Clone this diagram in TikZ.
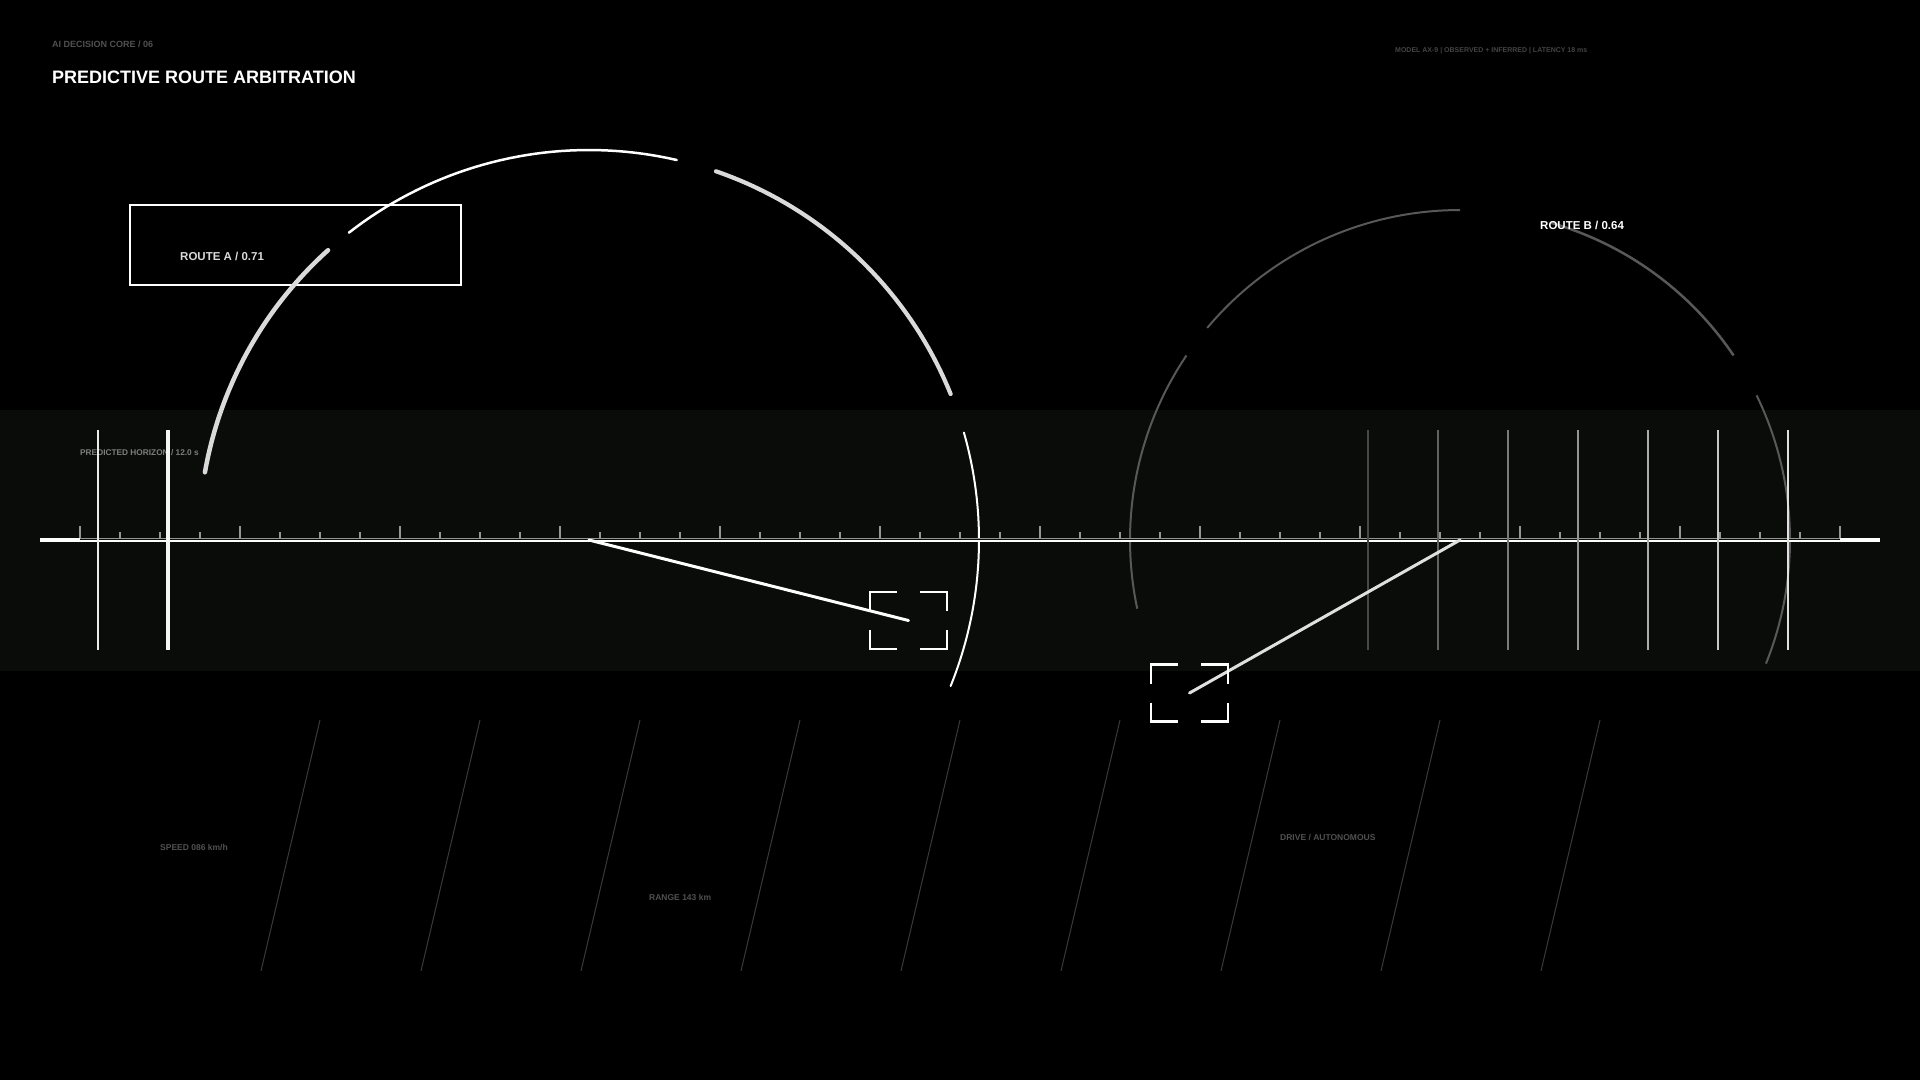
\documentclass[tikz,border=0pt]{standalone}
\usepackage{fontspec}
\setmainfont{Liberation Sans}
\usetikzlibrary{positioning}
\definecolor{bandcol}{RGB}{10,12,10}
\definecolor{arcA}{RGB}{218,218,218}
\definecolor{arcB}{RGB}{88,88,88}
\definecolor{hatch}{RGB}{58,58,58}
\definecolor{dimtext}{RGB}{80,80,80}
\definecolor{midtext}{RGB}{125,125,125}
\definecolor{tickcol}{RGB}{150,150,150}
\tikzset{
  lbl/.style={anchor=base west, inner sep=0pt},
  brk/.style={white, line width=2.2pt, line cap=butt},
  routeline/.style={line width=3pt, line cap=round},
}
\newcommand\fs[1]{\bfseries\fontsize{#1}{#1}\selectfont}

\begin{document}
\begin{tikzpicture}[x=1pt,y=-1pt]
\fill[black] (0,0) rectangle (1920,1080);
\useasboundingbox (0,0) rectangle (1920,1080);
\fill[bandcol] (0,410) rectangle (1920,671);
\foreach \i in {0,...,8}
  \draw[hatch, line width=1pt] ({320+160*\i},720) -- ({261+160*\i},971);

\coordinate (ctrA) at (589,540);
\coordinate (ctrB) at (1460,540);
\coordinate (tgtA) at (908.5,620.5);
\coordinate (tgtB) at (1189.5,693);

\node[draw=white, line width=2pt, minimum width=331pt, minimum height=80pt, inner sep=0pt] (boxA) at (295.5,245) {};

\foreach \a/\b/\w/\c in {170/132/4.5/arcA, 128/77/2.5/white, 71/22/4.2/arcA, 16/-22/2/white}
  \draw[line width=\w pt, \c, line cap=round, domain=\a:\b, samples=40] plot ({589+390*cos(\x)},{540-390*sin(\x)});
\foreach \a/\b/\w in {192/146/2, 140/90/2, 74/34/2.5, 26/-22/2}
  \draw[line width=\w pt, arcB, domain=\a:\b, samples=40] plot ({1460+330*cos(\x)},{540-330*sin(\x)});

\draw[white, line width=4.5pt] (40,540) -- (1880,540);
\draw[bandcol, line width=1pt] (80,539.3) -- (1840,539.3);
\draw[tickcol, line width=1.2pt] (80,538.2) -- (1840,538.2);
\foreach \i in {0,...,44} {
  \pgfmathsetmacro\tl{mod(\i,4)==0 ? 12 : 6}
  \draw[tickcol, line width=1.2pt] ({80+40*\i},538.2) -- ++(0,-\tl);
}

\node[lbl, midtext, font=\fs{8.3}] (horizon) at (80,455) {PREDICTED HORIZON / 12.0 s};

\draw[white!92!black, line width=2.5pt] (98,430) -- (98,650);
\draw[white!96!black, line width=4pt] (168,430) -- (168,650);
\foreach \i in {0,...,6} {
  \pgfmathsetmacro\sh{28+10*\i}
  \draw[white!\sh!black, line width=2pt] ({1368+70*\i},430) -- ++(0,220);
}

\draw[white, routeline] (ctrA) -- (tgtA);
\draw[white!88!black, routeline] (tgtB) -- (ctrB);
\foreach \sx/\sy in {1/1,1/-1,-1/1,-1/-1} {
  \draw[brk] ([shift={(\sx*38.5,\sy*9.5)}]tgtA) -- ++(0,\sy*19) -- ++(-\sx*27,0);
  \draw[brk] ([shift={(\sx*38.5,\sy*9.5)}]tgtB) -- ++(0,\sy*19) -- ++(-\sx*27,0);
}

\node[lbl, dimtext, font=\fs{9}] (kicker) at (52,47.5) {AI DECISION CORE / 06};
\node[lbl, white, font=\fs{18}] (title) at (52,83) {PREDICTIVE ROUTE ARBITRATION};
\node[lbl, dimtext!85!black, font=\fs{7}] (meta) at (1395,52) {MODEL AX-9 | OBSERVED + INFERRED | LATENCY 18 ms};
\node[lbl, arcA, font=\fs{11.5}] (lblA) at (180,260) {ROUTE A / 0.71};
\node[lbl, white, font=\fs{11.5}] (lblB) at (1540,229) {ROUTE B / 0.64};
\node[lbl, dimtext, font=\fs{8.5}] (speed) at (160,850) {SPEED 086 km/h};
\node[lbl, dimtext, font=\fs{8.5}] (range) at (649,900) {RANGE 143 km};
\node[lbl, dimtext, font=\fs{8.5}] (drive) at (1280,840) {DRIVE / AUTONOMOUS};
\end{tikzpicture}
\end{document}
